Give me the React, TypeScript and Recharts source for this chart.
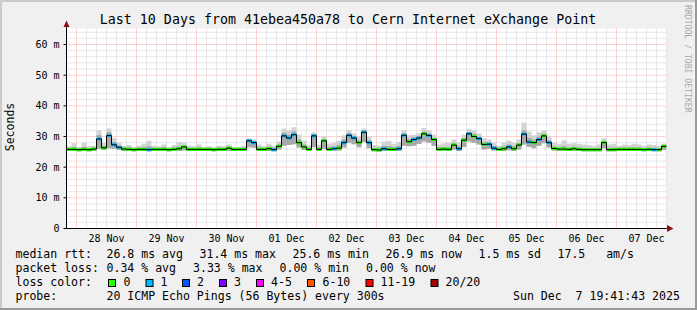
import React from 'react';
import { ComposedChart, Area, Line, XAxis, YAxis, CartesianGrid } from 'recharts';

// ---- data (2-hour samples, starting Nov 27 20:00) ----
const STEP_HOURS = 2;
const dayTicks = [16, 40, 64, 88, 112, 136, 160, 184, 208, 232];
const dayLabels = ['28 Nov', '29 Nov', '30 Nov', '01 Dec', '02 Dec', '03 Dec', '04 Dec', '05 Dec', '06 Dec', '07 Dec'];
const yTicks = [0, 10, 20, 30, 40, 50, 60];
const yTickLabels = ['0', '10 m', '20 m', '30 m', '40 m', '50 m', '60 m'];

// median rtt in ms
const median = [
  25.8, 25.8, 25.7, 25.8, 25.7, 25.9, 29.2, 26.3, 30.3, 27.3,
  26.5, 25.9, 25.8, 25.7, 25.8, 25.8, 25.7, 25.8, 25.8, 25.8,
  25.7, 25.8, 26.0, 26.6, 25.8, 25.8, 25.8, 25.8, 25.8, 25.7,
  25.8, 25.8, 26.2, 25.8, 25.8, 25.8, 28.6, 28.0, 25.8, 25.8,
  26.0, 25.7, 26.8, 30.2, 29.5, 30.6, 28.0, 26.6, 25.8, 30.2,
  25.8, 28.6, 25.8, 26.0, 26.2, 28.0, 30.4, 29.5, 28.0, 31.4,
  28.0, 25.7, 25.6, 26.0, 25.8, 25.8, 26.0, 30.4, 28.3, 29.0,
  29.5, 30.9, 30.3, 29.0, 25.8, 25.9, 25.8, 27.2, 26.0, 28.8,
  30.9, 30.0, 29.3, 27.4, 27.5, 26.2, 25.8, 26.0, 26.6, 26.0,
  27.2, 30.8, 28.2, 28.0, 29.0, 30.2, 28.0, 26.1, 25.9, 25.9,
  25.8, 26.0, 25.8, 25.7, 25.7, 25.7, 25.7, 28.0, 25.7, 25.7,
  25.8, 25.8, 25.8, 25.8, 25.8, 25.7, 25.8, 25.7, 25.7, 26.8,
  26.9,
];

// lost pings per sample (out of 20)
const loss = [
  0, 0, 0, 0, 0, 0, 1, 0, 1, 1,
  1, 0, 0, 0, 0, 0, 1, 0, 0, 0,
  0, 0, 0, 0, 0, 0, 0, 0, 0, 0,
  0, 0, 0, 0, 0, 0, 1, 1, 0, 0,
  0, 1, 0, 1, 1, 1, 0, 0, 0, 1,
  0, 0, 0, 1, 0, 1, 1, 1, 0, 1,
  1, 0, 0, 1, 0, 0, 1, 1, 0, 1,
  1, 0, 1, 0, 0, 0, 0, 0, 1, 0,
  1, 0, 1, 0, 1, 1, 0, 0, 1, 0,
  0, 1, 1, 0, 1, 0, 1, 0, 0, 0,
  0, 0, 0, 0, 0, 0, 0, 0, 0, 0,
  0, 0, 0, 0, 0, 0, 0, 1, 0, 0,
  0,
];

// smoke: lowest ping, upper edge of dense core, highest ping
const smokeLo = [
  25.3, 25.3, 25.2, 25.3, 25.2, 25.3, 26.0, 25.6, 26.2, 26.0,
  25.6, 25.3, 25.3, 25.2, 25.3, 25.3, 25.2, 25.3, 25.3, 25.3,
  25.2, 25.3, 25.3, 25.4, 25.3, 25.3, 25.3, 25.3, 25.3, 25.2,
  25.3, 25.3, 25.3, 25.3, 25.3, 25.3, 26.5, 26.3, 25.3, 25.3,
  25.3, 25.2, 25.8, 27.0, 27.2, 27.5, 26.4, 25.6, 25.3, 26.5,
  25.3, 26.0, 25.3, 25.4, 25.4, 26.4, 28.0, 27.5, 26.5, 28.2,
  26.2, 25.2, 25.1, 25.3, 25.3, 25.3, 25.3, 27.0, 26.8, 27.0,
  27.6, 28.4, 28.0, 27.0, 25.3, 25.3, 25.3, 25.8, 25.3, 26.6,
  28.4, 28.0, 27.4, 25.8, 26.0, 25.4, 25.3, 25.3, 25.5, 25.3,
  25.8, 27.4, 26.6, 26.2, 27.0, 27.8, 26.4, 25.4, 25.3, 25.3,
  25.3, 25.3, 25.3, 25.2, 25.2, 25.2, 25.2, 26.2, 25.2, 25.2,
  25.3, 25.3, 25.3, 25.3, 25.3, 25.2, 25.3, 25.2, 25.2, 25.6,
  25.6,
];

const smokeMid = [
  26.3, 26.6, 26.2, 26.6, 26.2, 26.4, 30.4, 26.9, 31.4, 28.2,
  27.0, 26.4, 26.5, 26.2, 26.4, 26.5, 26.8, 26.3, 26.3, 26.5,
  26.2, 26.4, 26.8, 27.2, 26.3, 26.3, 26.5, 26.2, 26.3, 26.2,
  26.4, 26.3, 26.7, 26.2, 26.2, 26.4, 29.0, 28.5, 26.5, 26.3,
  26.7, 26.3, 27.4, 31.2, 30.6, 31.6, 29.0, 27.4, 26.4, 30.8,
  26.5, 29.2, 26.6, 26.8, 27.2, 29.0, 31.0, 30.2, 28.8, 32.0,
  28.8, 26.3, 26.3, 26.9, 26.9, 26.6, 26.9, 31.0, 29.2, 29.8,
  30.2, 31.6, 31.0, 29.6, 26.5, 26.6, 26.6, 27.9, 26.8, 29.5,
  31.5, 30.8, 30.0, 28.2, 28.1, 26.9, 26.4, 26.8, 27.4, 26.8,
  27.9, 32.0, 29.6, 29.0, 30.0, 30.9, 28.8, 26.8, 26.5, 26.9,
  26.4, 26.7, 26.4, 26.3, 26.2, 26.2, 26.3, 28.6, 26.3, 26.4,
  26.3, 26.4, 26.4, 26.5, 26.4, 26.2, 26.4, 26.3, 26.2, 27.2,
  27.2,
];

const smokeHi = [
  26.8, 27.8, 26.6, 28.0, 26.8, 27.0, 32.0, 28.0, 32.6, 29.5,
  28.0, 27.0, 27.2, 26.6, 27.0, 27.6, 28.6, 27.0, 26.8, 27.4,
  26.6, 27.2, 28.2, 28.0, 27.0, 26.8, 27.4, 26.6, 26.8, 26.6,
  27.0, 26.8, 27.4, 26.6, 26.6, 27.0, 29.4, 29.0, 27.4, 26.8,
  27.6, 27.0, 28.4, 32.6, 32.0, 33.0, 30.6, 28.6, 27.2, 31.4,
  27.4, 30.0, 27.6, 28.0, 28.6, 30.4, 32.0, 31.0, 30.0, 32.6,
  30.0, 27.2, 27.0, 28.4, 28.6, 27.6, 28.2, 32.0, 30.4, 30.6,
  31.0, 32.8, 32.0, 30.6, 27.4, 27.8, 28.0, 29.0, 28.0, 30.6,
  32.4, 32.0, 31.0, 29.4, 29.0, 28.0, 27.0, 28.0, 28.6, 28.0,
  29.0, 34.6, 31.6, 30.4, 31.4, 32.0, 30.0, 28.0, 27.6, 28.8,
  27.6, 27.8, 27.6, 27.4, 27.2, 27.0, 27.4, 29.4, 27.4, 27.6,
  27.0, 27.4, 27.2, 27.6, 27.4, 27.0, 27.4, 27.2, 27.0, 27.6,
  27.6,
];

const lossLegend = ['0', '1', '2', '3', '4-5', '6-10', '11-19', '20/20'];
const lossColors = ['#26ff00', '#00b8ff', '#0059ff', '#7e00ff', '#ff00ff', '#ff5500', '#ff0000', '#a10000'];

const legendRows = [
  { label: 'median rtt:', items: ['26.8 ms avg', '31.4 ms max', '25.6 ms min', '26.9 ms now', '1.5 ms sd', '17.5   am/s'] },
  { label: 'packet loss:', items: ['0.34 % avg', '3.33 % max', '0.00 % min', '0.00 % now'] },
];
const probeText = '20 ICMP Echo Pings (56 Bytes) every 300s';
const dateText = 'Sun Dec  7 19:41:43 2025';

// ---- layout (not data) ----
const BAND = 0.5;
const row1X = [106.5, 199.5, 292.5, 385.5, 478.5, 557.5];
const row2X = [106.5, 193, 279.5, 366];
const squareX = [108, 145.5, 182, 219, 256, 307, 365.5, 430.5];
const squareLabelX = [123.5, 160.5, 197, 234, 271, 322.5, 380.5, 445.5];

const data = median.map((m, i) => ({
  t: i * STEP_HOURS,
  median: m,
  smokeOuter: [smokeLo[i], smokeHi[i]],
  smokeInner: [smokeLo[i], smokeMid[i]],
  loss0: loss[i] === 0 ? [m - BAND, m + BAND] : [m, m],
  loss1: loss[i] === 1 ? [m - BAND, m + BAND] : [m, m],
}));

const minorX: number[] = [];
const majorX: number[] = [];
for (let h = 0; h <= 240; h += 4) {
  if ((h - 4) % 24 === 0) majorX.push(h);
  else minorX.push(h);
}
const minorY: number[] = [];
for (let v = 2; v <= 64; v += 2) if (v % 10 !== 0) minorY.push(v);
const majorY = [10, 20, 30, 40, 50, 60];

const MONO = "'DejaVu Sans Mono', monospace";
const tickStyle = { fontFamily: MONO, fontSize: 10, fill: '#000' };

export default function App() {
  const legendFont = { fontFamily: MONO, fontSize: 11.55, fill: '#000', whiteSpace: 'pre' as const };
  return (
    <div style={{ position: 'absolute', left: 0, top: 0, width: 697, height: 310, background: '#f0f0f0', overflow: 'hidden' }}>
      <div style={{ position: 'absolute', left: 0, top: 0 }}>
        <ComposedChart width={697} height={310} data={data} margin={{ top: 28.5, right: 30.5, bottom: 51.5, left: 6.5 }}>
          <CartesianGrid
            horizontalValues={minorY}
            verticalValues={minorX}
            stroke="#d2d2d2"
            strokeDasharray="1 1"
            fill="#ffffff"
            fillOpacity={1}
          />
          <CartesianGrid horizontalValues={majorY} verticalValues={majorX} stroke="#ffa4a4" strokeDasharray="1 1" />
          <XAxis
            type="number"
            dataKey="t"
            domain={[0, 240]}
            ticks={dayTicks}
            tickFormatter={(v: number) => dayLabels[dayTicks.indexOf(v)] ?? ''}
            interval={0}
            height={30}
            tickSize={0}
            tickMargin={6}
            tickLine={false}
            axisLine={{ stroke: '#000' }}
            tick={tickStyle}
            allowDataOverflow
          />
          <YAxis
            type="number"
            domain={[0, 65.22]}
            ticks={yTicks}
            tickFormatter={(v: number) => yTickLabels[yTicks.indexOf(v)] ?? ''}
            interval={0}
            width={60}
            tickSize={3}
            tickMargin={4}
            tickLine={{ stroke: '#000' }}
            axisLine={{ stroke: '#000' }}
            tick={tickStyle}
            allowDataOverflow
          />
          <Area type="stepAfter" dataKey="smokeOuter" stroke="none" fill="#d3d3d3" fillOpacity={1} isAnimationActive={false} dot={false} activeDot={false} />
          <Area type="stepAfter" dataKey="smokeInner" stroke="none" fill="#a9a9a9" fillOpacity={1} isAnimationActive={false} dot={false} activeDot={false} />
          <Line type="stepAfter" dataKey="median" stroke="#000" strokeWidth={1} dot={false} activeDot={false} isAnimationActive={false} />
          <Area type="stepAfter" dataKey="loss0" stroke="none" fill={lossColors[0]} fillOpacity={1} isAnimationActive={false} dot={false} activeDot={false} />
          <Area type="stepAfter" dataKey="loss1" stroke="none" fill={lossColors[1]} fillOpacity={1} isAnimationActive={false} dot={false} activeDot={false} />
        </ComposedChart>
      </div>
      <svg width={697} height={310} style={{ position: 'absolute', left: 0, top: 0, pointerEvents: 'none' }}>
        {/* frame */}
        <rect x={0} y={0} width={697} height={2} fill="#cbcbcb" />
        <rect x={0} y={0} width={2} height={310} fill="#cbcbcb" />
        <rect x={0} y={308} width={697} height={2} fill="#999999" />
        <rect x={695} y={0} width={2} height={310} fill="#999999" />
        {/* axis extensions and arrows */}
        <line x1={66.5} y1={22} x2={66.5} y2={28.5} stroke="#000" />
        <line x1={666.5} y1={228.5} x2={670} y2={228.5} stroke="#000" />
        <polygon points="63.5,27 69.5,27 66.5,20.5" fill="#8b1010" />
        <polygon points="667,225 667,232 673.5,228.5" fill="#8b1010" />
        {/* title */}
        <text x={348} y={24} textAnchor="middle" style={{ fontFamily: MONO, fontSize: 13.3, fill: '#000', whiteSpace: 'pre' }}>
          Last 10 Days from 41ebea450a78 to Cern Internet eXchange Point
        </text>
        {/* y label */}
        <text x={14} y={127} textAnchor="middle" transform="rotate(-90 14 127)" style={{ fontFamily: MONO, fontSize: 11.5, fill: '#000' }}>
          Seconds
        </text>
        {/* watermark */}
        <text x={685} y={5} transform="rotate(90 685 5)" style={{ fontFamily: MONO, fontSize: 8.15, fill: '#a8a8a8', whiteSpace: 'pre' }}>
          RRDTOOL / TOBI OETIKER
        </text>
        {/* legend row 1 */}
        <text x={15.5} y={258} style={legendFont}>{legendRows[0].label}</text>
        {legendRows[0].items.map((s, i) => (
          <text key={'r1' + i} x={row1X[i]} y={258} style={legendFont}>{s}</text>
        ))}
        {/* legend row 2 */}
        <text x={15.5} y={272} style={legendFont}>{legendRows[1].label}</text>
        {legendRows[1].items.map((s, i) => (
          <text key={'r2' + i} x={row2X[i]} y={272} style={legendFont}>{s}</text>
        ))}
        {/* loss colors */}
        <text x={15.5} y={286} style={legendFont}>loss color:</text>
        {lossLegend.map((s, i) => (
          <g key={'lc' + i}>
            <rect x={squareX[i] + 0.5} y={279.5} width={7} height={7} fill={lossColors[i]} stroke="#000" strokeWidth={1} />
            <text x={squareLabelX[i]} y={286} style={legendFont}>{s}</text>
          </g>
        ))}
        {/* probe */}
        <text x={15.5} y={300} style={legendFont}>probe:</text>
        <text x={106.5} y={300} style={legendFont}>{probeText}</text>
        <text x={513} y={300} style={legendFont}>{dateText}</text>
      </svg>
    </div>
  );
}
